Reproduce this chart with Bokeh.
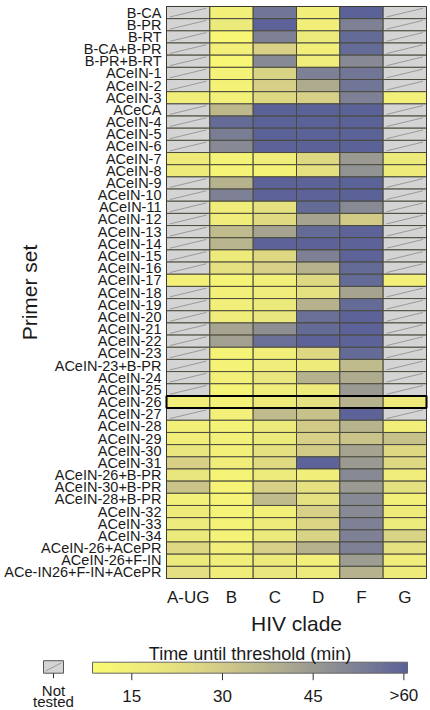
import math
import numpy as np
from bokeh.plotting import figure
from bokeh.models import LinearColorMapper, ColumnDataSource, Range1d
from bokeh.embed import file_html
from bokeh.resources import INLINE
from bokeh.core.properties import value

N = None
clades = ["A-UG", "B", "C", "D", "F", "G"]
primers = ["B-CA", "B-PR", "B-RT", "B-CA+B-PR", "B-PR+B-RT", "ACeIN-1", "ACeIN-2", "ACeIN-3",
           "ACeCA", "ACeIN-4", "ACeIN-5", "ACeIN-6", "ACeIN-7", "ACeIN-8", "ACeIN-9", "ACeIN-10",
           "ACeIN-11", "ACeIN-12", "ACeIN-13", "ACeIN-14", "ACeIN-15", "ACeIN-16", "ACeIN-17",
           "ACeIN-18", "ACeIN-19", "ACeIN-20", "ACeIN-21", "ACeIN-22", "ACeIN-23", "ACeIN-23+B-PR",
           "ACeIN-24", "ACeIN-25", "ACeIN-26", "ACeIN-27", "ACeIN-28", "ACeIN-29", "ACeIN-30",
           "ACeIN-31", "ACeIN-26+B-PR", "ACeIN-30+B-PR", "ACeIN-28+B-PR", "ACeIN-32", "ACeIN-33",
           "ACeIN-34", "ACeIN-26+ACePR", "ACeIN-26+F-IN", "ACe-IN26+F-IN+ACePR"]

# time until threshold (min); None = not tested
time_A_UG = [N, N, N, N, N, N, N, 15, N, N, N, N, 17, 17, N, N, N, N, N, N, N, N, 14, N, N, N, N, N,
             N, N, N, N, 15, N, 14, 15, 20, 28, 20, 32, 14, 17, 18, 18, 25, 18, 23]
time_B = [14, 18, 11, 14, 11, 13, 13, 14, 36, 58, 53, 50, 13, 12, 38, 52, 16, 16, 35, 37, 17, 22, 12,
          14, 15, 16, 42, 43, 12, 13, 14, 12, 13, 14, 13, 14, 14, 16, 12, 12, 12, 13, 13, 13, 15, 15, 16]
time_C = [55, 60, 52, 28, 50, 27, 28, 25, 62, 62, 62, 60, 16, 13, 60, 60, 22, 24, 42, 60, 25, 28, 14,
          16, 18, 20, 48, 57, 15, 16, 20, 16, 17, 35, 18, 18, 22, 24, 18, 28, 35, 14, 17, 18, 28, 17, 20]
time_D = [15, 15, 18, 15, 16, 52, 40, 28, 62, 62, 62, 62, 25, 22, 60, 60, 58, 42, 58, 60, 52, 38, 25,
          22, 38, 57, 58, 60, 25, 17, 38, 17, 22, 33, 30, 28, 30, 60, 15, 22, 22, 28, 26, 27, 38, 14, 18]
time_F = [62, 52, 58, 58, 50, 55, 55, 52, 62, 62, 62, 62, 45, 47, 62, 62, 50, 30, 60, 60, 60, 58, 58,
          42, 58, 60, 60, 60, 58, 35, 40, 45, 38, 60, 37, 32, 42, 45, 50, 45, 50, 50, 52, 52, 52, 44, 38]
time_G = [N, N, N, N, N, N, N, 14, N, N, N, N, 18, 17, N, N, N, N, N, N, N, N, 14, N, N, N, N, N,
          N, N, N, N, 17, N, 15, 33, 25, 25, 16, 22, 14, 17, 18, 27, 22, 16, 17]
highlight = "ACeIN-26"

bar_ticks = [15, 30, 45, 60]
bar_tick_labels = ["15", "30", "45", ">60"]
t_low, t_high = 8.5, 60.6

FONT = "Liberation Sans"
TXT = "#1a1a1a"
W, H = 430, 710

# palette (style): yellow -> khaki -> grey -> slate blue
stops = [(0.0, (250, 250, 114)), (0.22, (234, 230, 126)), (0.41, (210, 203, 136)),
         (0.6, (175, 172, 143)), (0.8, (134, 136, 148)), (1.0, (91, 98, 152))]
palette = []
for k in range(256):
    f = k / 255
    for (a, ca), (b, cb) in zip(stops[:-1], stops[1:]):
        if a <= f <= b:
            u = (f - a) / (b - a)
            c = [round(ca[i] + (cb[i] - ca[i]) * u) for i in range(3)]
            palette.append("#%02x%02x%02x" % tuple(c))
            break
mapper = LinearColorMapper(palette=palette, low=t_low, high=t_high, nan_color="#d4d4d4")

cols = [time_A_UG, time_B, time_C, time_D, time_F, time_G]
n = len(primers)
m = len(clades)

# layout of heat-map area (pixels)
HM_L, HM_R, HM_T, HM_B = 166, 426, 6, 578
cw = (HM_R - HM_L) / m
rh = (HM_B - HM_T) / n
xr = Range1d(-0.5 - HM_L / cw, m - 0.5 + (W - HM_R) / cw)
yr = Range1d(-0.5 - (H - HM_B) / rh, n - 0.5 + HM_T / rh)

def xpx(px):  # pixel from left -> column units
    return -0.5 + (px - HM_L) / cw

def ypx(py):  # pixel from top -> row units
    return -0.5 + (HM_B - py) / rh

xs, ys, ts = [], [], []
nx0, ny0, nx1, ny1 = [], [], [], []
for i, colvals in enumerate(cols):
    for j, v in enumerate(colvals):
        y = n - 1 - j
        xs.append(i); ys.append(y); ts.append(float("nan") if v is None else v)
        if v is None:
            nx0.append(i - 0.42); ny0.append(y - 0.36); nx1.append(i + 0.42); ny1.append(y + 0.36)

src = ColumnDataSource(dict(x=xs, y=ys, t=ts))

p = figure(width=W, height=H, x_range=xr, y_range=yr, output_backend="svg",
           toolbar_location=None, min_border=0, x_axis_location=None, y_axis_location=None)
p.xgrid.visible = False
p.ygrid.visible = False
p.outline_line_color = None

p.rect(x="x", y="y", width=1, height=1, source=src,
       fill_color={"field": "t", "transform": mapper}, line_color="#4a4a3c", line_width=1)
p.segment(x0=nx0, y0=ny0, x1=nx1, y1=ny1, line_color="#8a8a8a", line_width=0.8)
p.quad(left=[-0.5], right=[m - 0.5], bottom=[-0.5], top=[n - 0.5], fill_color=None,
       line_color="#3a3a30", line_width=1)
hj = primers.index(highlight)
p.rect(x=[(m - 1) / 2], y=[n - 1 - hj], width=m, height=1,
       fill_color=None, line_color="black", line_width=2)

# y tick labels
p.text(x=[xpx(HM_L - 5)] * n, y=[n - 1 - j for j in range(n)], text=primers,
       text_font=value(FONT), text_font_size="14.5px", text_color=TXT,
       text_align="right", text_baseline="middle")
# x tick labels
p.text(x=list(range(m)), y=[ypx(597)] * m, text=clades, text_font=value(FONT),
       text_font_size="17px", text_color=TXT, text_align="center", text_baseline="alphabetic")
# axis titles
p.text(x=[(m - 1) / 2], y=[ypx(622.5)], text=["HIV clade"], text_font=value(FONT),
       text_font_size="21px", text_color=TXT, text_align="center", text_baseline="alphabetic")
p.text(x=[xpx(29)], y=[(n - 1) / 2], text=["Primer set"], angle=math.pi / 2,
       text_font=value(FONT), text_font_size="21px", text_color=TXT,
       text_align="center", text_baseline="middle")

# colour bar (extra ranges: value units horizontally, pixels-from-bottom vertically)
BAR_L, BAR_R = 92, 407
scale = (BAR_R - BAR_L) / (t_high - t_low)
p.extra_x_ranges = {"bar": Range1d(t_low - BAR_L / scale, t_high + (W - BAR_R) / scale)}
p.extra_y_ranges = {"px": Range1d(0, H)}

def vpx(px):
    return t_low + (px - BAR_L) / scale

bar_y0, bar_h = H - 672.7, 11
grad = np.linspace(t_low, t_high, 400).reshape(1, -1)
p.image(image=[grad], x=t_low, y=bar_y0, dw=t_high - t_low, dh=bar_h, color_mapper=mapper,
        x_range_name="bar", y_range_name="px")
p.quad(left=[t_low], right=[t_high], bottom=[bar_y0], top=[bar_y0 + bar_h],
       fill_color=None, line_color="#666666", line_width=1, x_range_name="bar", y_range_name="px")
nt = len(bar_ticks)
p.segment(x0=bar_ticks, x1=bar_ticks, y0=[bar_y0] * nt, y1=[bar_y0 - 7] * nt,
          line_color="#333333", line_width=1, x_range_name="bar", y_range_name="px")
p.text(x=bar_ticks, y=[H - 695] * nt, text=bar_tick_labels, text_font=value(FONT),
       text_font_size="17px", text_color=TXT, text_align="center", text_baseline="alphabetic",
       x_range_name="bar", y_range_name="px")
p.text(x=[(t_low + t_high) / 2], y=[H - 653.5], text=["Time until threshold (min)"],
       text_font=value(FONT), text_font_size="18px", text_color=TXT,
       text_align="center", text_baseline="alphabetic", x_range_name="bar", y_range_name="px")

# "Not tested" legend swatch
p.quad(left=[vpx(43)], right=[vpx(63)], bottom=[bar_y0], top=[bar_y0 + 12.5],
       fill_color="#d4d4d4", line_color="#555555", line_width=1,
       x_range_name="bar", y_range_name="px")
p.segment(x0=[vpx(45)], x1=[vpx(61)], y0=[bar_y0 + 2], y1=[bar_y0 + 10.5],
          line_color="#8a8a8a", line_width=0.8, x_range_name="bar", y_range_name="px")
p.segment(x0=[vpx(53)], x1=[vpx(53)], y0=[bar_y0], y1=[bar_y0 - 5], line_color="#333333",
          x_range_name="bar", y_range_name="px")
p.text(x=[vpx(53)] * 2, y=[H - 690, H - 701], text=["Not", "tested"], text_font=value(FONT),
       text_font_size="15px", text_color=TXT, text_align="center", text_baseline="alphabetic",
       x_range_name="bar", y_range_name="px")

open("out.html", "w").write(file_html(p, INLINE))
